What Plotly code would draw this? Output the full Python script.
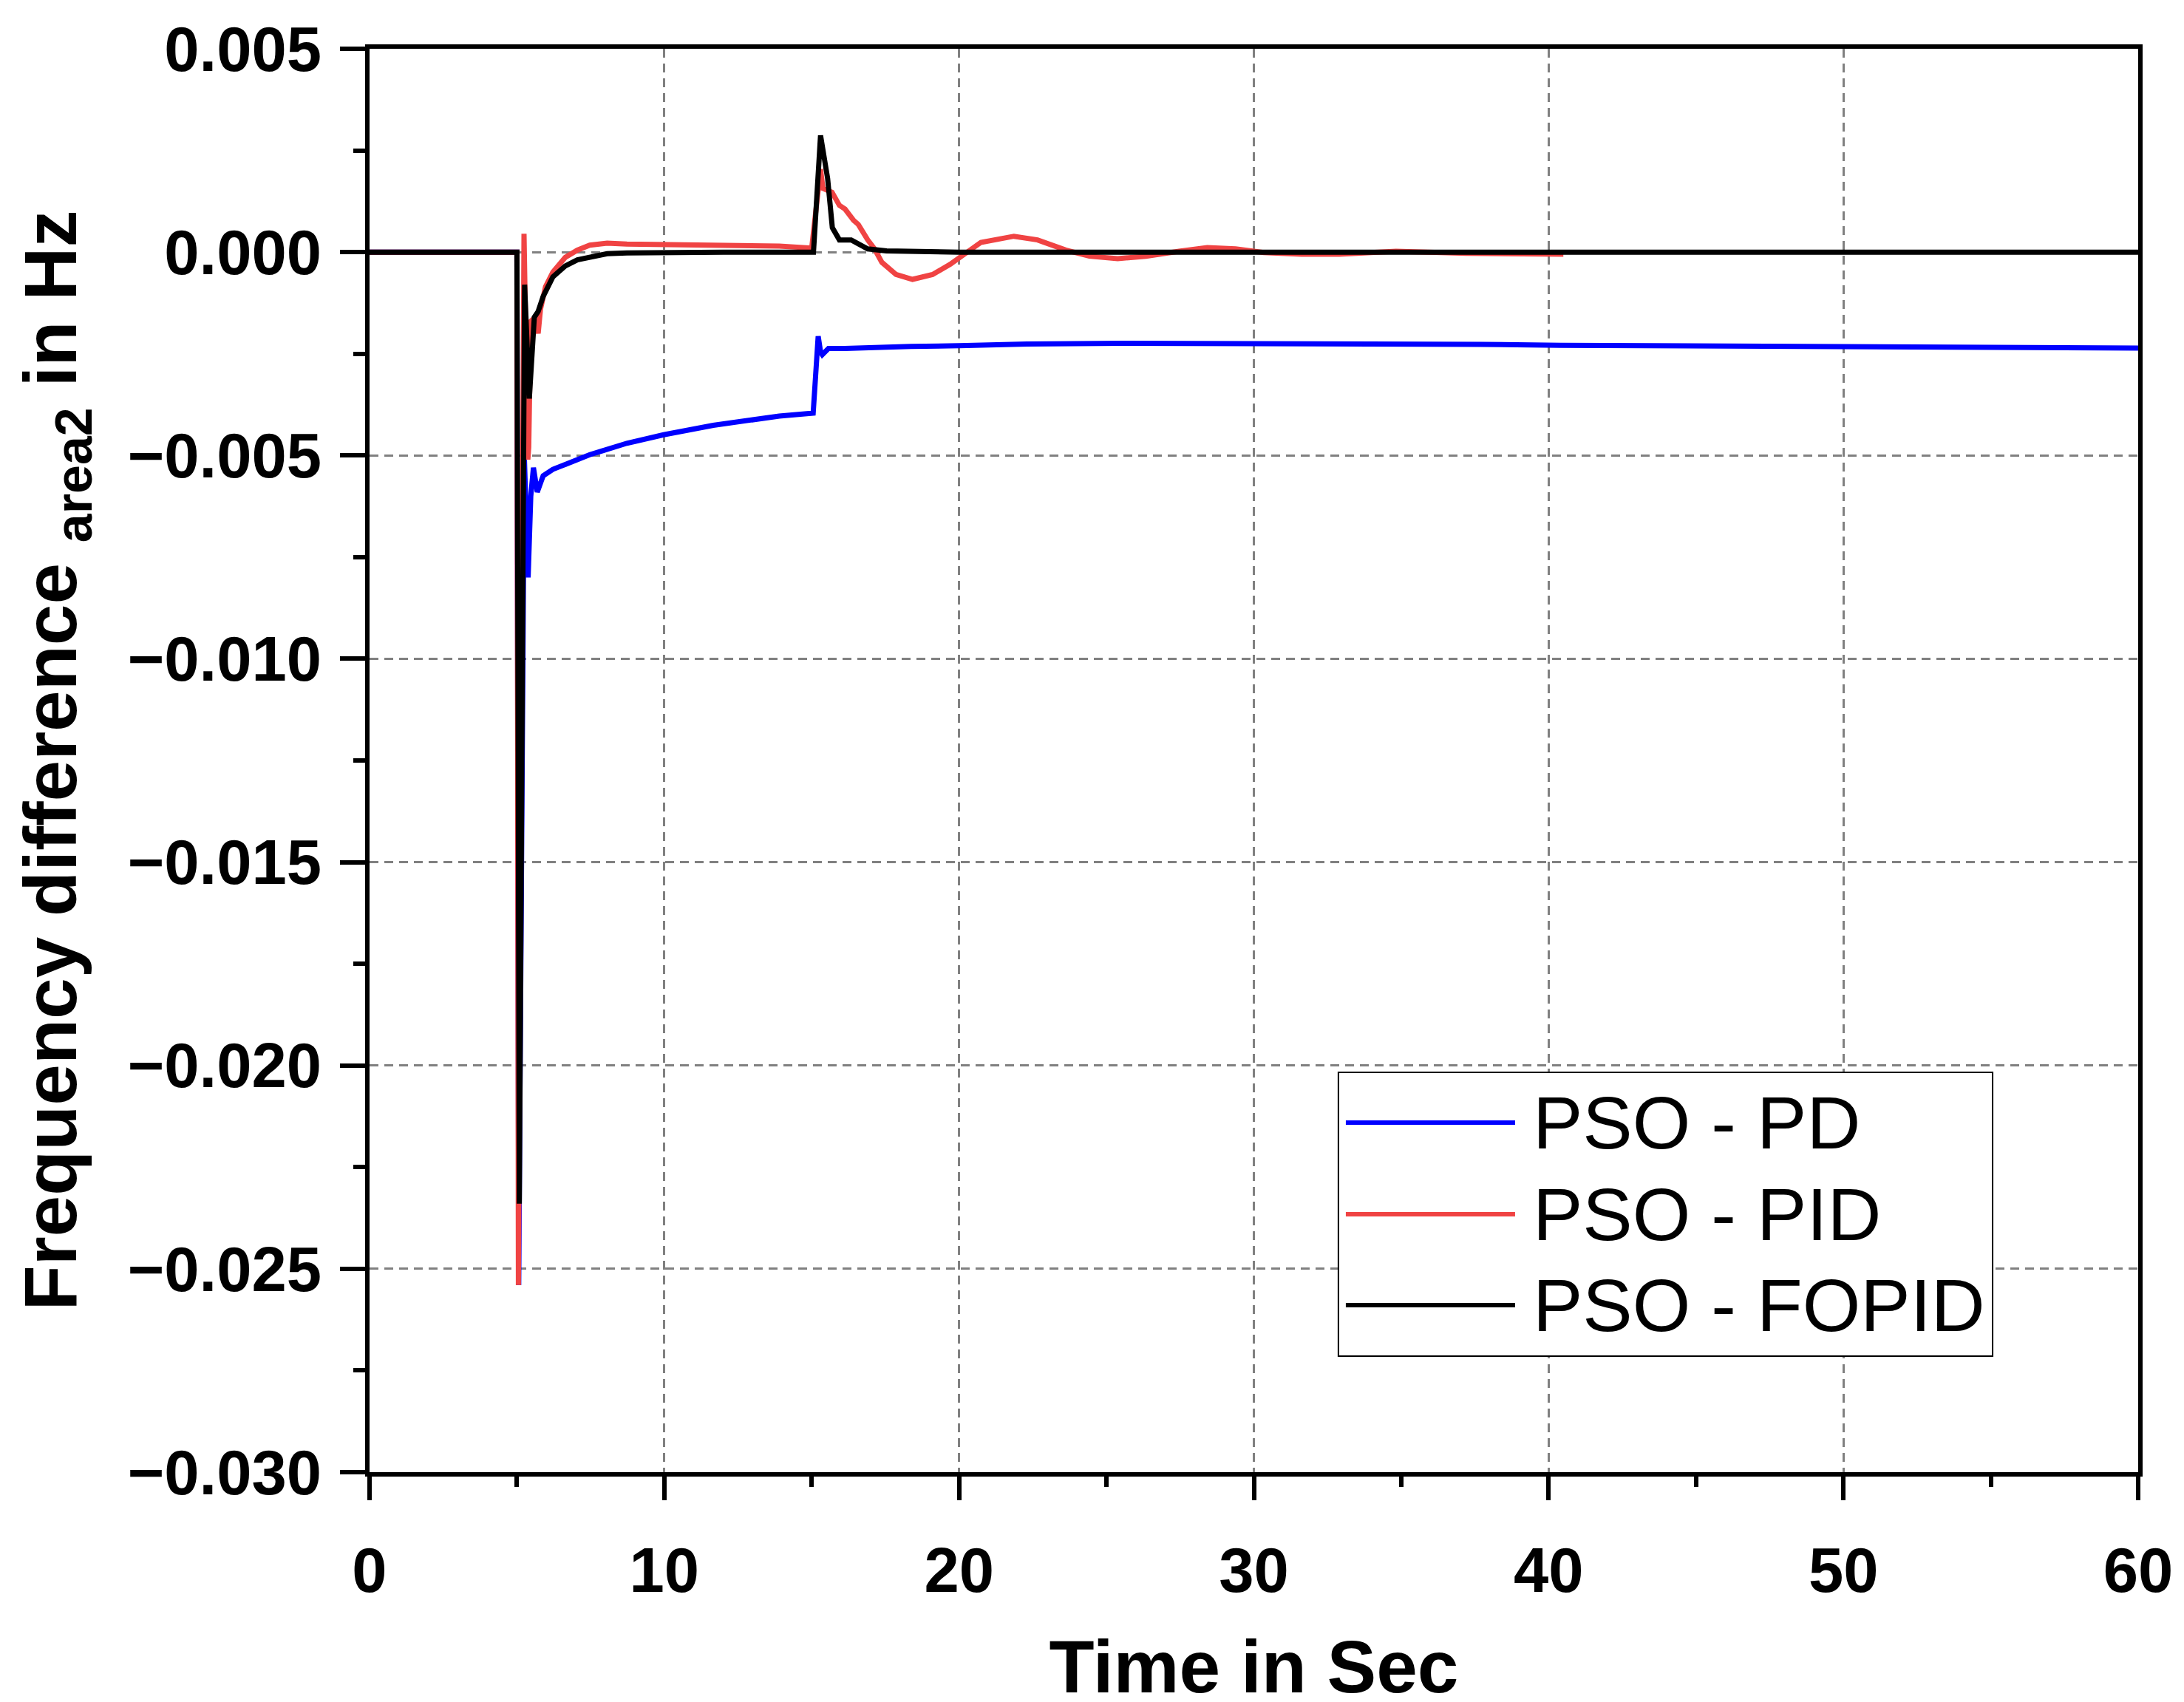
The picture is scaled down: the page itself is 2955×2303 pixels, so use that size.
import plotly.graph_objects as go

# PSO - PD (area 2)
t_pd = [0, 5.0, 5.06, 5.25, 5.38, 5.47, 5.56, 5.69, 5.89, 6.22, 6.64, 7.05, 7.47, 7.89,
        8.73, 9.98, 11.66, 13.9, 15.05, 15.22, 15.3, 15.36, 15.57, 16.13, 17.25, 18.36,
        20.0, 22.3, 25.5, 28.7, 33.5, 37.7, 40.4, 45.4, 52.2, 60.0]
f_pd = [0, 0, -0.0254, -0.0050, -0.0080, -0.0060, -0.0053, -0.0059, -0.0055, -0.00534,
        -0.00522, -0.0051, -0.00498, -0.00489, -0.0047, -0.00449, -0.00426, -0.00403,
        -0.00396, -0.00207, -0.00245, -0.00252, -0.00237, -0.00237, -0.00233, -0.00232,
        -0.0023, -0.00226, -0.00224, -0.00224, -0.00224, -0.00227, -0.00229, -0.00231,
        -0.00234, -0.00236]

# PSO - PID
t_pid = [0, 5.0, 5.05, 5.24, 5.37, 5.40, 5.47, 5.62, 5.72, 5.80, 5.97, 6.22, 6.64, 7.05,
         7.47, 8.06, 8.73, 10.0, 11.7, 13.9, 15.0, 15.3, 15.38, 15.69, 15.94, 16.13, 16.42,
         16.58, 16.9, 17.13, 17.38, 17.6, 17.86, 18.42, 19.1, 19.7, 20.3, 20.74, 21.86,
         22.66, 23.62, 24.42, 25.38, 26.34, 27.46, 28.42, 29.38, 30.34, 31.62, 32.9, 34.82,
         37.2, 40.5]
f_pid = [0, 0, -0.0254, 0.00045, -0.0051, -0.0048, -0.0017, -0.0016, -0.0020, -0.0014,
         -0.00085, -0.00049, -0.00013, 0.00005, 0.00017, 0.00022, 0.0002, 0.00019, 0.00018,
         0.00015, 0.0001, 0.00204, 0.00157, 0.00147, 0.00115, 0.00106, 0.00078, 0.00068,
         0.0003, 0.00008, -0.00025, -0.00037, -0.00055, -0.00067, -0.00055, -0.0003, 0.0,
         0.00024, 0.00039, 0.0003, 0.00005, -0.0001, -0.00016, -0.0001, 0.00002, 0.00011,
         0.00008, -0.00001, -0.00005, -0.00005, 0.00002, -0.00003, -0.00005]

# PSO - FOPID
t_fopid = [0, 5.0, 5.08, 5.26, 5.42, 5.59, 5.72, 5.89, 6.22, 6.64, 7.05, 7.47, 8.06, 8.73,
           10.0, 12.0, 15.0, 15.06, 15.3, 15.54, 15.7, 15.94, 16.34, 16.9, 17.54, 20.0,
           30.0, 40.0, 50.0, 60.0]
f_fopid = [0, 0, -0.0234, -0.0008, -0.0036, -0.0016, -0.00146, -0.00109, -0.00061,
           -0.00034, -0.00019, -0.00013, -0.00004, -0.00002, 0, 0, 0, 0, 0.00287, 0.00181,
           0.0006, 0.0003, 0.0003, 0.00008, 0.00003, 0, 0, 0, 0, 0]

names = ['PSO - PD', 'PSO - PID', 'PSO - FOPID']
colors = ['#0000FF', '#F04343', '#000000']

FONT = 'Liberation Sans, Arial, sans-serif'

fig = go.Figure()
for t, f, name, c in zip([t_pd, t_pid, t_fopid], [f_pd, f_pid, f_fopid], names, colors):
    fig.add_trace(go.Scatter(x=t, y=f, mode='lines', name=name,
                             line=dict(color=c, width=7), showlegend=False))

axis_common = dict(
    showline=True, linecolor='black', linewidth=6, mirror=True,
    ticks='outside', tickcolor='black', tickwidth=6,
    showgrid=True, gridcolor='#808080', gridwidth=2.5, griddash='12px,8px',
    zeroline=False,
    tickfont=dict(family=FONT, size=85, color='black', weight='bold'),
)

fig.update_layout(
    width=2955, height=2303,
    margin=dict(l=492, r=70, t=58, b=319, autoexpand=False),
    plot_bgcolor='white', paper_bgcolor='white',
    xaxis=dict(
        range=[0, 60], dtick=10, ticklen=32, ticklabelstandoff=22,
        minor=dict(dtick=5, ticklen=14, tickwidth=6, tickcolor='black', ticks='outside', showgrid=False),
        title=dict(text='Time in Sec', standoff=70,
                   font=dict(family=FONT, size=100, color='black', weight='bold')),
        **axis_common
    ),
    yaxis=dict(
        range=[-0.030, 0.005], dtick=0.005, tickformat='.3f', ticklen=34, ticklabelstandoff=8,
        minor=dict(dtick=0.0025, ticklen=16, tickwidth=6, tickcolor='black', ticks='outside', showgrid=False),
        title=dict(text='Frequency difference <sub>area2</sub> in Hz', standoff=38,
                   font=dict(family=FONT, size=100, color='black', weight='bold')),
        **axis_common
    ),
)

# legend drawn by hand so the line samples are long like the original
fig.add_shape(type='rect', xref='paper', yref='paper', x0=0.5478, x1=0.9177, y0=0.0815, y1=0.2809,
              line=dict(color='black', width=2), fillcolor='white', layer='above')
rows = [0.2456, 0.1812, 0.1173]
for name, c, yy in zip(names, colors, rows):
    fig.add_shape(type='line', xref='paper', yref='paper', x0=0.552, x1=0.6477, y0=yy, y1=yy,
                  line=dict(color=c, width=6), layer='above')
    fig.add_annotation(text=name, xref='paper', yref='paper', x=0.657, y=yy,
                       xanchor='left', yanchor='middle', showarrow=False,
                       font=dict(family=FONT, size=101, color='black'))

fig.write_html('out.html')
